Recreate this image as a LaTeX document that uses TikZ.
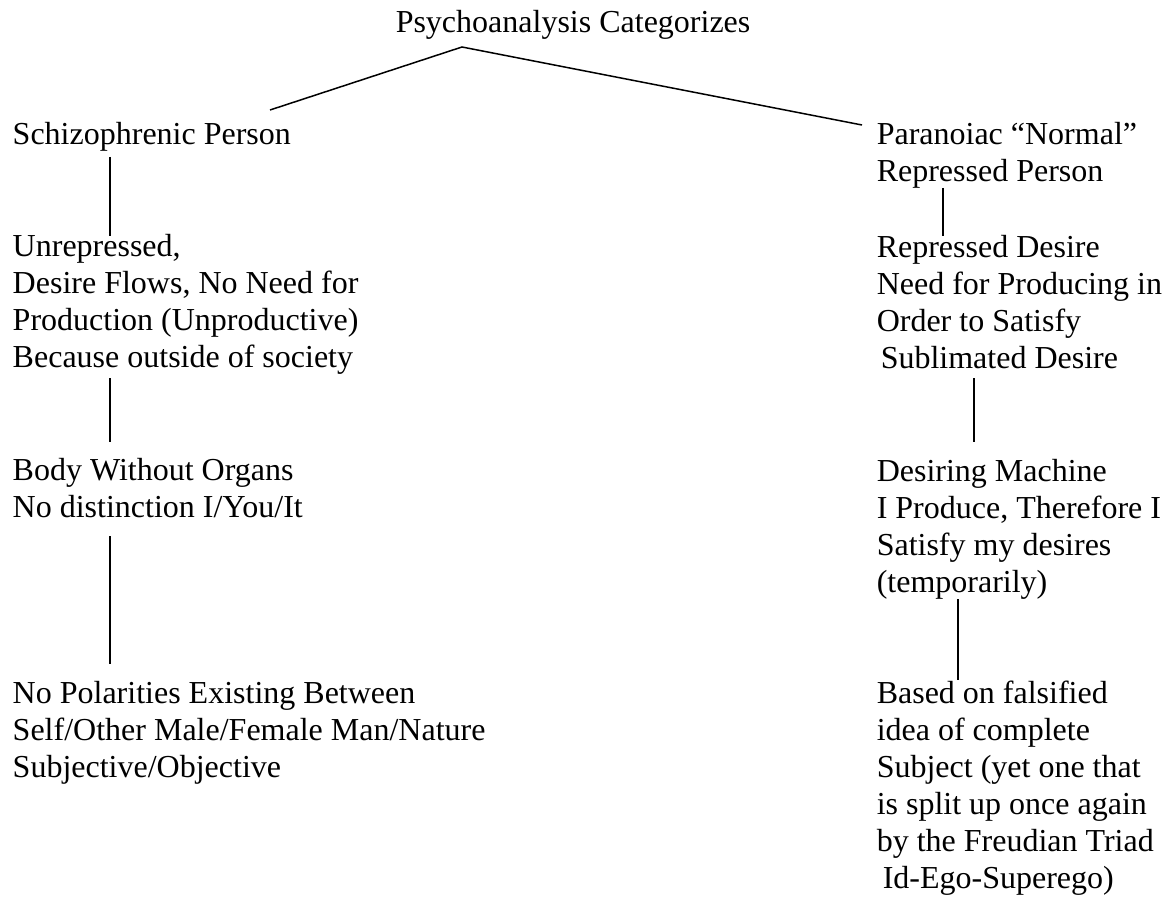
\documentclass[tikz,border=0pt]{standalone}
\usepackage{fontspec}
\setmainfont{Liberation Serif}
\usetikzlibrary{calc}
\begin{document}
\begin{tikzpicture}[x=0.5pt,y=-0.5pt,line width=0.75pt,
  txt/.style={anchor=base west,inner sep=0pt,align=left,font=\fontsize{16}{18.5}\selectfont}]
\useasboundingbox (0,0) rectangle (1168,899);
\node[txt] (title) at (395,33) {Psychoanalysis Categorizes};
\node[txt] (schiz) at (12,145) {Schizophrenic Person};
\node[txt] (unrep) at (12,367) {Unrepressed,\\Desire Flows, No Need for\\Production (Unproductive)\\Because outside of society};
\node[txt] (body) at (12,517) {Body Without Organs\\No distinction I/You/It};
\node[txt] (polar) at (12,777) {No Polarities Existing Between\\Self/Other Male/Female Man/Nature\\Subjective/Objective};
\node[txt] (para) at (876,182) {Paranoiac “Normal”\\Repressed Person};
\node[txt] (repdes) at (876,368) {Repressed Desire\\Need for Producing in\\Order to Satisfy\\\hspace{2pt}Sublimated Desire};
\node[txt] (desmach) at (876,592) {Desiring Machine\\I Produce, Therefore I\\Satisfy my desires\\(temporarily)};
\node[txt] (based) at (876,888) {Based on falsified\\idea of complete\\Subject (yet one that\\is split up once again\\by the Freudian Triad\\\hspace{3pt}Id-Ego-Superego)};
\coordinate (apex) at ($(title.base west)+(67,14)$);
\draw ($(schiz.base west)+(258,-35)$) -- (apex) -- ($(para.base west)+(-14,-57)$);
\draw ($(schiz.base west)+(98,12)$) -- ($(unrep.base west)+(98,-131)$);
\draw ($(unrep.base west)+(98,11)$) -- ($(body.base west)+(98,-75)$);
\draw ($(body.base west)+(98,19)$) -- ($(polar.base west)+(98,-113)$);
\draw ($(para.base west)+(67,6)$) -- ($(repdes.base west)+(67,-132)$);
\draw ($(repdes.base west)+(98,10)$) -- ($(desmach.base west)+(98,-150)$);
\draw ($(desmach.base west)+(82,7)$) -- ($(based.base west)+(82,-208)$);
\end{tikzpicture}
\end{document}
